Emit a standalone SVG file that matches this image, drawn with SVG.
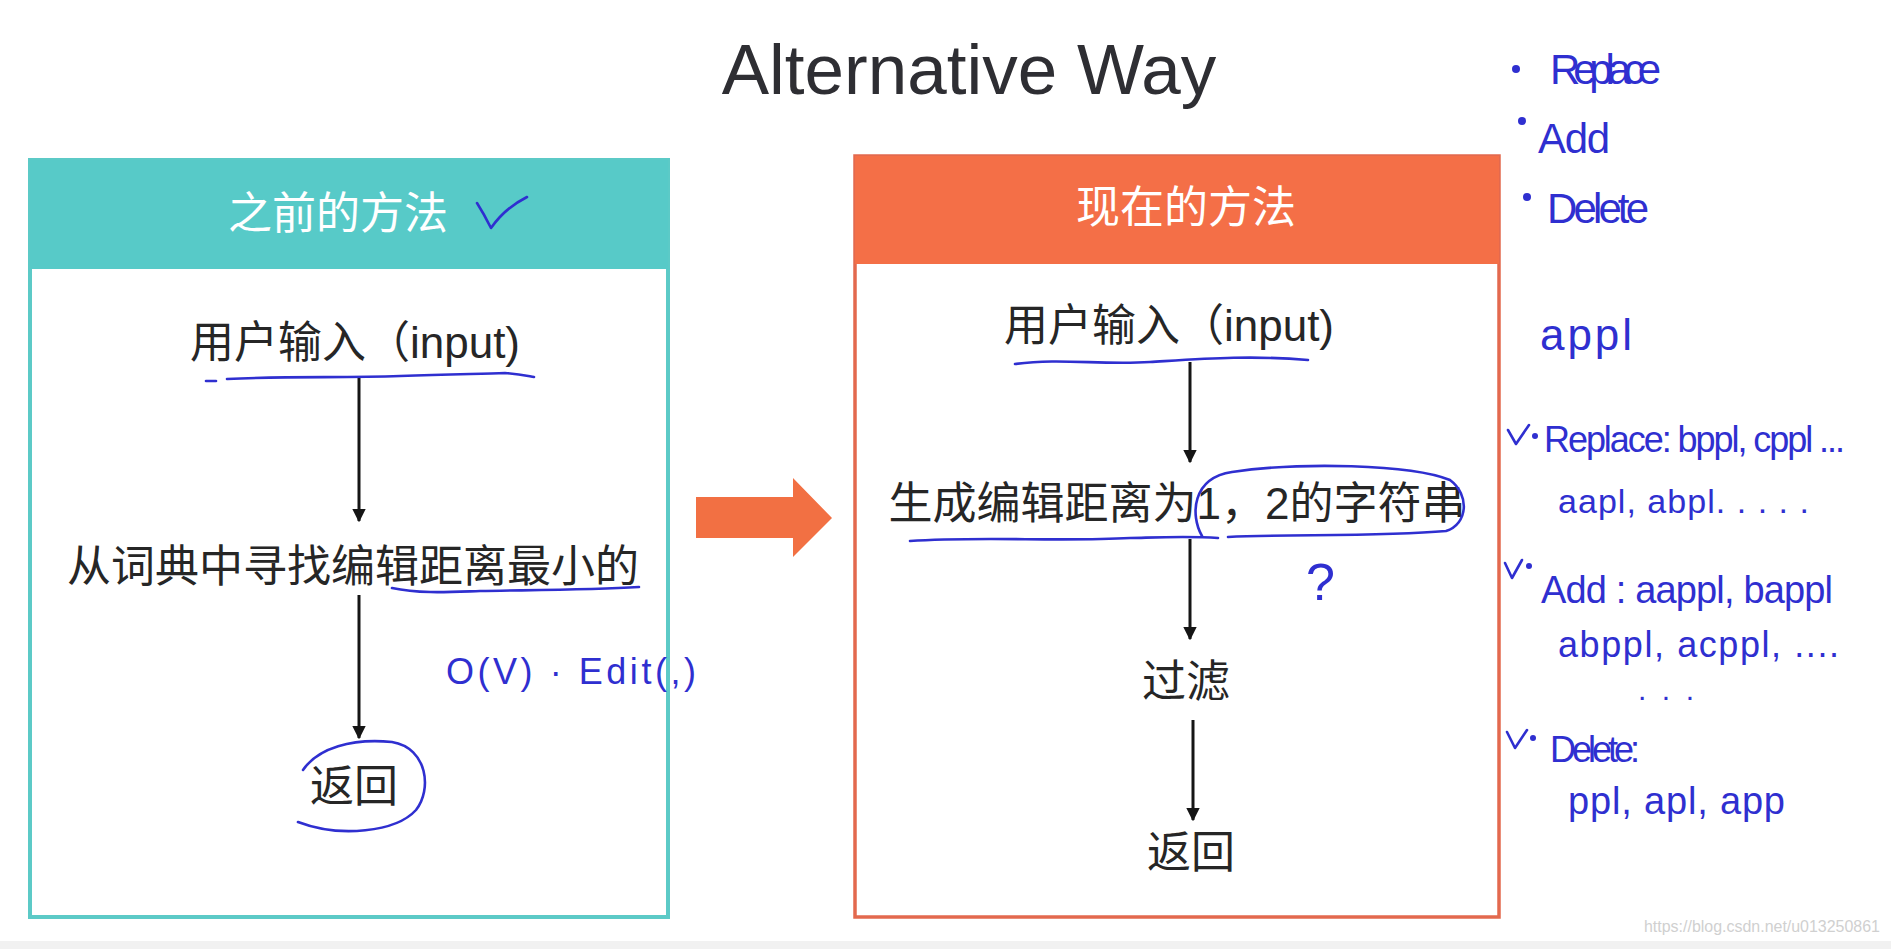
<svg xmlns="http://www.w3.org/2000/svg" width="1891" height="949" viewBox="0 0 1891 949">
<defs>
<style>
.cn{font-family:"Liberation Sans","Noto Sans CJK SC",sans-serif;font-size:44px;fill:#262626;text-anchor:middle}
.hd{font-family:"Liberation Sans","Noto Sans CJK SC",sans-serif;font-size:44px;fill:#ffffff;text-anchor:middle}
.hw{font-family:"Liberation Sans",sans-serif;fill:#2f2fd0;lengthAdjust:spacingAndGlyphs}
.ink{fill:none;stroke:#2f2fd0;stroke-width:2.6;stroke-linecap:round;stroke-linejoin:round}
.edge{stroke:#151515;stroke-width:3;fill:none}
</style>
<marker id="ah" viewBox="0 0 10 10" refX="9" refY="5" markerWidth="4.5" markerHeight="5" orient="auto" markerUnits="strokeWidth">
<path d="M0,0 L10,5 L0,10 z" fill="#151515"/>
</marker>
</defs>
<rect x="0" y="0" width="1891" height="949" fill="#ffffff"/>
<rect x="0" y="941" width="1891" height="8" fill="#f1f1f1"/>

<g id="title">
<text x="969" y="94" font-family="Liberation Sans, sans-serif" font-size="71" fill="#2e2e33" text-anchor="middle">Alternative Way</text>
</g>

<g id="left-box">
<rect x="30" y="160" width="638" height="757" fill="#ffffff" stroke="#5ccac7" stroke-width="4"/>
<rect x="30" y="160" width="638" height="109" fill="#57cac8"/>
<text class="hd" x="338" y="229">之前的方法</text>
<path class="ink" d="M477 203 Q484 214 491 228 Q505 208 527 197"/>
</g>

<g id="right-box">
<rect x="855" y="156" width="644" height="761" fill="#ffffff" stroke="#e3694e" stroke-width="3.5"/>
<rect x="855" y="156" width="644" height="108" fill="#f46f47"/>
<text class="hd" x="1186" y="223">现在的方法</text>
</g>

<g id="l-input"><text class="cn" x="355" y="358">用户输入（input)</text></g>
<g id="l-search"><text class="cn" x="353" y="582">从词典中寻找编辑距离最小的</text></g>
<g id="l-return"><text class="cn" x="354" y="802">返回</text></g>

<g id="r-input"><text class="cn" x="1169" y="341">用户输入（input)</text></g>
<g id="r-generate"><text class="cn" x="1177" y="519">生成编辑距离为1，2的字符串</text></g>
<g id="r-filter"><text class="cn" x="1186" y="697">过滤</text></g>
<g id="r-return"><text class="cn" x="1191" y="868">返回</text></g>

<g id="big-arrow">
<polygon points="696,497 793,497 793,478 832,518 793,557 793,538 696,538" fill="#f27043"/>
</g>

<g id="connectors">
<line class="edge" x1="359" y1="377" x2="359" y2="521" marker-end="url(#ah)"/>
<line class="edge" x1="359" y1="595" x2="359" y2="738" marker-end="url(#ah)"/>
<line class="edge" x1="1190" y1="362" x2="1190" y2="462" marker-end="url(#ah)"/>
<line class="edge" x1="1190" y1="539" x2="1190" y2="639" marker-end="url(#ah)"/>
<line class="edge" x1="1193" y1="720" x2="1193" y2="820" marker-end="url(#ah)"/>
</g>

<g id="annotations">
<path class="ink" d="M206 381 L216 381"/>
<path class="ink" d="M227 379 C290 376 340 378 400 376 C450 374 480 374 505 373 C520 374 528 376 534 377"/>
<path class="ink" d="M392 588 C420 594 450 592 480 591 C530 590 590 590 639 587"/>
<path class="ink" d="M303 770 C318 748 352 738 392 742 C428 748 432 790 416 810 C396 832 340 838 298 822"/>
<text class="hw" x="446" y="684" font-size="36" textLength="250">O(V) · Edit(,)</text>

<path class="ink" d="M1015 364 C1060 358 1100 365 1150 362 C1200 359 1250 355 1308 360"/>
<path class="ink" d="M910 541 C980 536 1060 542 1130 538 C1170 537 1190 536 1218 538"/>
<path class="ink" d="M1202 536 C1190 515 1192 478 1232 472 C1300 462 1410 464 1450 480 C1470 495 1468 524 1446 531 C1380 537 1290 534 1228 537"/>
<text class="hw" x="1306" y="600" font-size="52" textLength="36">?</text>

<circle cx="1516" cy="69" r="4" fill="#2f2fd0"/>
<text class="hw" x="1550" y="84" font-size="42" textLength="111">Replace</text>
<circle cx="1522" cy="121" r="4" fill="#2f2fd0"/>
<text class="hw" x="1538" y="153" font-size="42" textLength="72">Add</text>
<circle cx="1527" cy="197" r="4" fill="#2f2fd0"/>
<text class="hw" x="1547" y="223" font-size="42" textLength="102">Delete</text>
<text class="hw" x="1540" y="350" font-size="44" textLength="92">appl</text>

<path class="ink" d="M1508 430 L1516 444 L1529 425"/>
<circle cx="1535" cy="436" r="3" fill="#2f2fd0"/>
<text class="hw" x="1544" y="452" font-size="36" textLength="301">Replace: bppl, cppl ...</text>
<text class="hw" x="1558" y="513" font-size="34" textLength="251">aapl, abpl. . . . .</text>
<path class="ink" d="M1505 563 L1512 578 L1522 560"/>
<circle cx="1529" cy="566" r="3" fill="#2f2fd0"/>
<text class="hw" x="1541" y="603" font-size="38" textLength="292">Add : aappl, bappl</text>
<text class="hw" x="1558" y="657" font-size="36" textLength="281">abppl, acppl, ....</text>
<text class="hw" x="1638" y="700" font-size="30" textLength="56">. . .</text>
<path class="ink" d="M1507 732 L1515 748 L1527 730"/>
<circle cx="1533" cy="738" r="3" fill="#2f2fd0"/>
<text class="hw" x="1550" y="762" font-size="36" textLength="90">Delete:</text>
<text class="hw" x="1568" y="814" font-size="38" textLength="217">ppl, apl, app</text>
</g>

<g id="watermark">
<text x="1644" y="932" font-family="Liberation Sans, sans-serif" font-size="16" fill="#d0d0d0" textLength="236" lengthAdjust="spacingAndGlyphs">https://blog.csdn.net/u013250861</text>
</g>
</svg>
